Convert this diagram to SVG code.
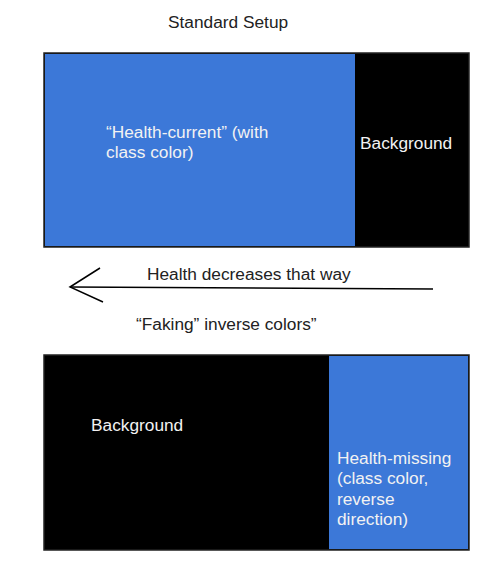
<svg xmlns="http://www.w3.org/2000/svg" width="500" height="579" viewBox="0 0 500 579">
<style>
text{font-family:"Liberation Sans",Arial,sans-serif;font-size:17.3px}
.dark{fill:#222}
.light{fill:#f2f2f2}
.blue{fill:#3c78d8}
.bg{fill:#000}
.frame{fill:none;stroke:#222;stroke-width:1.5}
</style>
<rect width="500" height="579" fill="#fff"/>
<text class="dark" x="168" y="28">Standard Setup</text>
<g id="top-bar">
<rect class="bg" x="44" y="53" width="425" height="194"/>
<rect class="blue" x="45" y="54" width="310" height="192"/>
<rect class="frame" x="44" y="53" width="425" height="194"/>
<text class="light" x="106" y="138">“Health-current” (with</text>
<text class="light" x="106" y="158">class color)</text>
<text class="light" x="360" y="149">Background</text>
</g>
<g id="connectors">
<line x1="70" y1="287" x2="433" y2="289" stroke="#000" stroke-width="1.5"/>
<polyline points="100,268 70,287 103,302" fill="none" stroke="#000" stroke-width="1.5"/>
</g>
<text class="dark" x="147" y="280">Health decreases that way</text>
<text class="dark" x="136" y="330">“Faking” inverse colors”</text>
<g id="bottom-bar">
<rect class="bg" x="44" y="355" width="425" height="195"/>
<rect class="blue" x="329" y="356" width="139" height="193"/>
<rect class="frame" x="44" y="355" width="425" height="195"/>
<text class="light" x="91" y="431">Background</text>
<text class="light" x="337" y="464">Health-missing</text>
<text class="light" x="337" y="484">(class color,</text>
<text class="light" x="337" y="505">reverse</text>
<text class="light" x="337" y="525">direction)</text>
</g>
</svg>
